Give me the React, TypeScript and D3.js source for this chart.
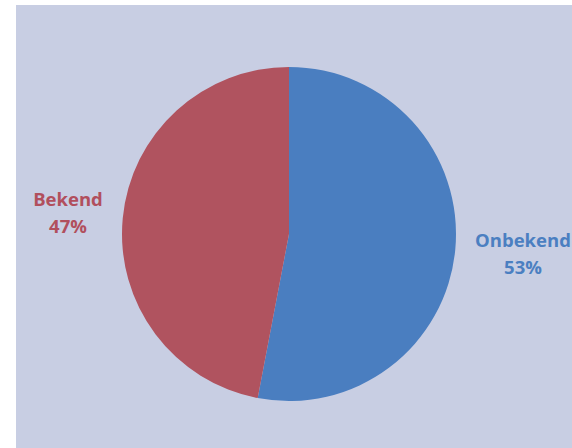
import React from "react";
import * as d3 from "d3";

const categories = ["Onbekend", "Bekend"];
const values = [53, 47];
const percentLabels = ["53%", "47%"];
const colors = ["#4a7ec0", "#b0535f"];
const labelColors = ["#4b7fc1", "#b14f5d"];

const W = 572;
const H = 448;

export default function App() {
  const cx = 289;
  const cy = 234;
  const r = 167;
  const pie = d3.pie<number>().sort(null).value((d) => d)(values);
  const arc = d3.arc<d3.PieArcDatum<number>>().innerRadius(0).outerRadius(r);
  const labelPos = [
    { x: 523, y: 247 },
    { x: 68, y: 206 },
  ];
  return (
    <svg
      width={W}
      height={H}
      style={{ position: "fixed", left: 0, top: 0, display: "block" }}
    >
      <rect x={0} y={0} width={W} height={H} fill="#ffffff" />
      <rect x={16} y={5} width={W - 16} height={H - 5} fill="#c8cee3" />
      <g transform={`translate(${cx},${cy})`}>
        {pie.map((p, i) => (
          <path key={categories[i]} d={arc(p) || ""} fill={colors[i]} />
        ))}
      </g>
      {categories.map((c, i) => (
        <text
          key={c}
          x={labelPos[i].x}
          y={labelPos[i].y}
          textAnchor="middle"
          fill={labelColors[i]}
          fontFamily="'Open Sans', sans-serif"
          fontWeight="bold"
          fontSize={18.5}
        >
          <tspan x={labelPos[i].x} dy={0}>{c}</tspan>
          <tspan x={labelPos[i].x} dy={27}>{percentLabels[i]}</tspan>
        </text>
      ))}
    </svg>
  );
}
